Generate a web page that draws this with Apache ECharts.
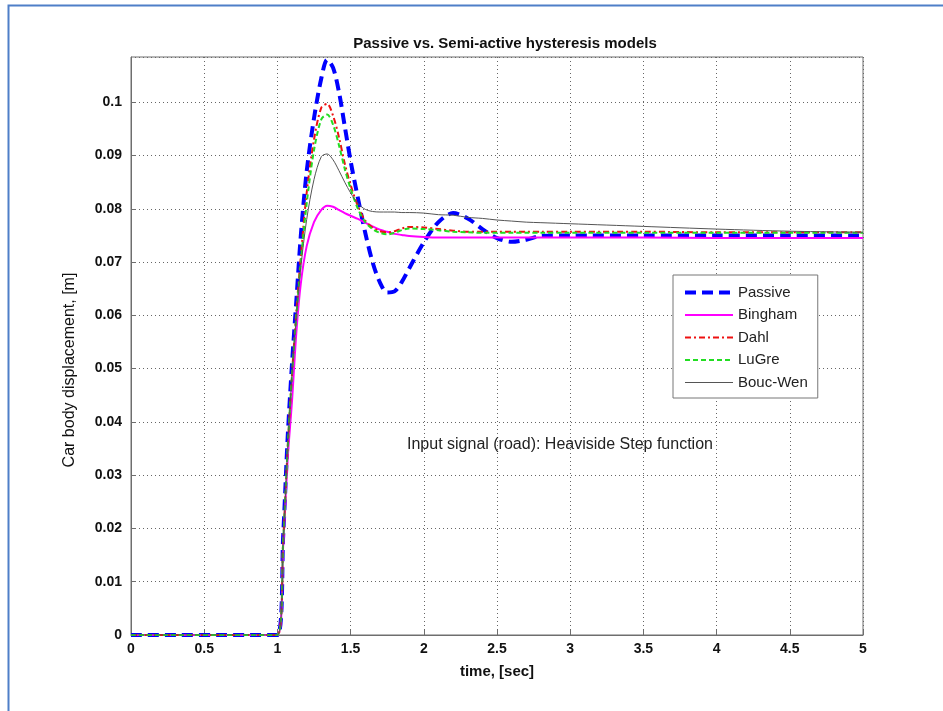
<!DOCTYPE html>
<html>
<head>
<meta charset="utf-8">
<script src="https://cdn.jsdelivr.net/npm/echarts@6/dist/echarts.min.js"></script>
<style>
  html, body { margin: 0; padding: 0; background: #ffffff; }
  #chart { width: 943px; height: 711px; }
</style>
</head>
<body>
<div id="chart"></div>
<script>
// ---- data ----
const titleText = 'Passive vs. Semi-active hysteresis models';
const xName = 'time, [sec]';
const yName = 'Car body displacement, [m]';
const noteText = 'Input signal (road): Heaviside Step function';

const time = [0, 1.0, 1.04, 1.07, 1.1, 1.13, 1.16, 1.2, 1.25, 1.3, 1.34, 1.38, 1.42, 1.46, 1.5, 1.55, 1.6, 1.65, 1.7, 1.75, 1.8, 1.85, 1.9, 2.0, 2.1, 2.2, 2.3, 2.4, 2.5, 2.6, 2.7, 2.8, 3.0, 3.5, 4.0, 4.5, 5.0];

const passive = [0, 0, 0.019, 0.037, 0.051, 0.063, 0.075, 0.087, 0.097, 0.1045, 0.108, 0.1065, 0.102, 0.0955, 0.089, 0.082, 0.0755, 0.0700, 0.0662, 0.0643, 0.0645, 0.0663, 0.0688, 0.0737, 0.0775, 0.0792, 0.0782, 0.0762, 0.0745, 0.0738, 0.0742, 0.0749, 0.0750, 0.0750, 0.0750, 0.0750, 0.0750];

const bingham = [0, 0, 0.017, 0.033, 0.044, 0.057, 0.066, 0.073, 0.0775, 0.0798, 0.0806, 0.0804, 0.0798, 0.0792, 0.0787, 0.0781, 0.0774, 0.0767, 0.0761, 0.0757, 0.0753, 0.0751, 0.0749, 0.0747, 0.0746, 0.0746, 0.0746, 0.0746, 0.0746, 0.0746, 0.0746, 0.0746, 0.0746, 0.0746, 0.0745, 0.0745, 0.0745];

const dahl = [0, 0, 0.018, 0.035, 0.049, 0.061, 0.071, 0.083, 0.093, 0.0990, 0.0997, 0.0975, 0.0935, 0.0885, 0.0845, 0.0805, 0.0778, 0.0765, 0.0758, 0.0756, 0.0758, 0.0763, 0.0766, 0.0765, 0.0762, 0.0759, 0.0757, 0.0757, 0.0757, 0.0757, 0.0757, 0.0757, 0.0757, 0.0757, 0.0756, 0.0756, 0.0756];

const lugre = [0, 0, 0.018, 0.035, 0.049, 0.060, 0.070, 0.081, 0.091, 0.0968, 0.0977, 0.0958, 0.0920, 0.0875, 0.0838, 0.0800, 0.0775, 0.0762, 0.0755, 0.0752, 0.0755, 0.0760, 0.0763, 0.0762, 0.0760, 0.0757, 0.0756, 0.0755, 0.0755, 0.0755, 0.0755, 0.0755, 0.0755, 0.0755, 0.0755, 0.0755, 0.0755];

const boucWen = [0, 0, 0.018, 0.035, 0.049, 0.060, 0.069, 0.078, 0.0855, 0.0898, 0.0903, 0.0892, 0.0872, 0.0850, 0.0830, 0.0810, 0.0799, 0.0795, 0.0794, 0.0794, 0.0794, 0.0793, 0.0793, 0.0792, 0.0789, 0.0788, 0.0784, 0.0782, 0.0779, 0.0777, 0.0775, 0.0774, 0.0772, 0.0767, 0.0762, 0.0758, 0.0756];

const seriesNames = ['Passive', 'Bingham', 'Dahl', 'LuGre', 'Bouc-Wen'];
const xTicks = [0, 0.5, 1, 1.5, 2, 2.5, 3, 3.5, 4, 4.5, 5];
const yTicks = [0, 0.01, 0.02, 0.03, 0.04, 0.05, 0.06, 0.07, 0.08, 0.09, 0.1];

// ---- chart ----
const pair = arr => time.map((t, i) => [t, arr[i]]);
const font = "'Liberation Sans', Arial, sans-serif";

const chart = echarts.init(document.getElementById('chart'), null, { renderer: 'canvas' });

const styles = [
  { data: passive, color: '#0000ff', width: 4, type: [11, 6] },
  { data: bingham, color: '#ff00ff', width: 2, type: 'solid' },
  { data: dahl, color: '#ee1111', width: 2, type: [6, 3, 2, 3] },
  { data: lugre, color: '#22dd22', width: 2, type: [5, 3] },
  { data: boucWen, color: '#555555', width: 1, type: 'solid' }
];

chart.setOption({
  animation: false,
  backgroundColor: '#ffffff',
  title: {
    text: titleText,
    left: 500, top: 31, textAlign: 'center',
    textStyle: { fontFamily: font, fontSize: 15, fontWeight: 'bold', color: '#111' }
  },
  grid: {
    left: 131, right: 80, top: 57, bottom: 76,
    show: true, borderColor: '#6e6e6e', borderWidth: 1, backgroundColor: '#ffffff'
  },
  legend: {
    data: seriesNames,
    orient: 'vertical',
    left: 673, top: 275,
    itemWidth: 48, itemHeight: 14,
    itemGap: 7.5,
    padding: [10, 10, 8, 10],
    backgroundColor: '#ffffff',
    borderColor: '#777777', borderWidth: 1,
    borderRadius: 0,
    itemStyle: { color: 'rgba(0,0,0,0)', borderWidth: 0, opacity: 0 },
    lineStyle: { width: 'inherit', type: 'inherit' },
    textStyle: { fontFamily: font, fontSize: 15, color: '#222' },
    selectedMode: false
  },
  xAxis: {
    type: 'value', min: 0, max: 5, interval: 0.5,
    name: xName, nameLocation: 'middle', nameGap: 29,
    nameTextStyle: { fontFamily: font, fontSize: 15, fontWeight: 'bold', color: '#111' },
    axisLine: { show: true, onZero: false, lineStyle: { color: '#6e6e6e', width: 1 } },
    axisTick: { show: true, inside: true, length: 5, lineStyle: { color: '#6e6e6e' } },
    axisLabel: {
      fontFamily: font, fontSize: 14, fontWeight: 'bold', color: '#111', margin: 7,
      formatter: v => (xTicks.some(t => Math.abs(t - v) < 1e-9) ? String(+v.toFixed(2)) : '')
    },
    splitLine: { show: true, lineStyle: { color: '#666666', type: [1, 3], width: 1 } }
  },
  yAxis: {
    type: 'value', min: 0, max: 0.1085, interval: 0.01,
    name: yName, nameLocation: 'middle', nameGap: 53,
    nameTextStyle: { fontFamily: font, fontSize: 16, color: '#111', padding: [0, 48, 0, 0] },
    axisLine: { show: true, onZero: false, lineStyle: { color: '#6e6e6e', width: 1 } },
    axisTick: { show: true, inside: true, length: 5, lineStyle: { color: '#6e6e6e' } },
    axisLabel: {
      fontFamily: font, fontSize: 14, fontWeight: 'bold', color: '#111', margin: 9,
      showMaxLabel: false,
      formatter: v => (yTicks.some(t => Math.abs(t - v) < 1e-9) ? String(+v.toFixed(3)) : '')
    },
    splitLine: { show: true, lineStyle: { color: '#666666', type: [1, 3], width: 1 } }
  },
  series: styles.map((s, i) => ({
    name: seriesNames[i],
    type: 'line',
    data: pair(s.data),
    showSymbol: false,
    symbol: 'none',
    smooth: 0.3,
    color: s.color,
    lineStyle: { color: s.color, width: s.width, type: s.type },
    z: 2 + i
  })),
  graphic: [
    {
      type: 'rect', left: 6, top: 3, z: 100, silent: true,
      shape: { x: 0, y: 0, width: 1000, height: 1000 },
      style: { fill: 'none', stroke: '#4f7fc8', lineWidth: 2 }
    },
    {
      type: 'text', left: 407, top: 437, z: 50,
      style: { text: noteText, font: "16px 'Liberation Sans', Arial, sans-serif", fill: '#222' }
    }
  ]
});
</script>
</body>
</html>
